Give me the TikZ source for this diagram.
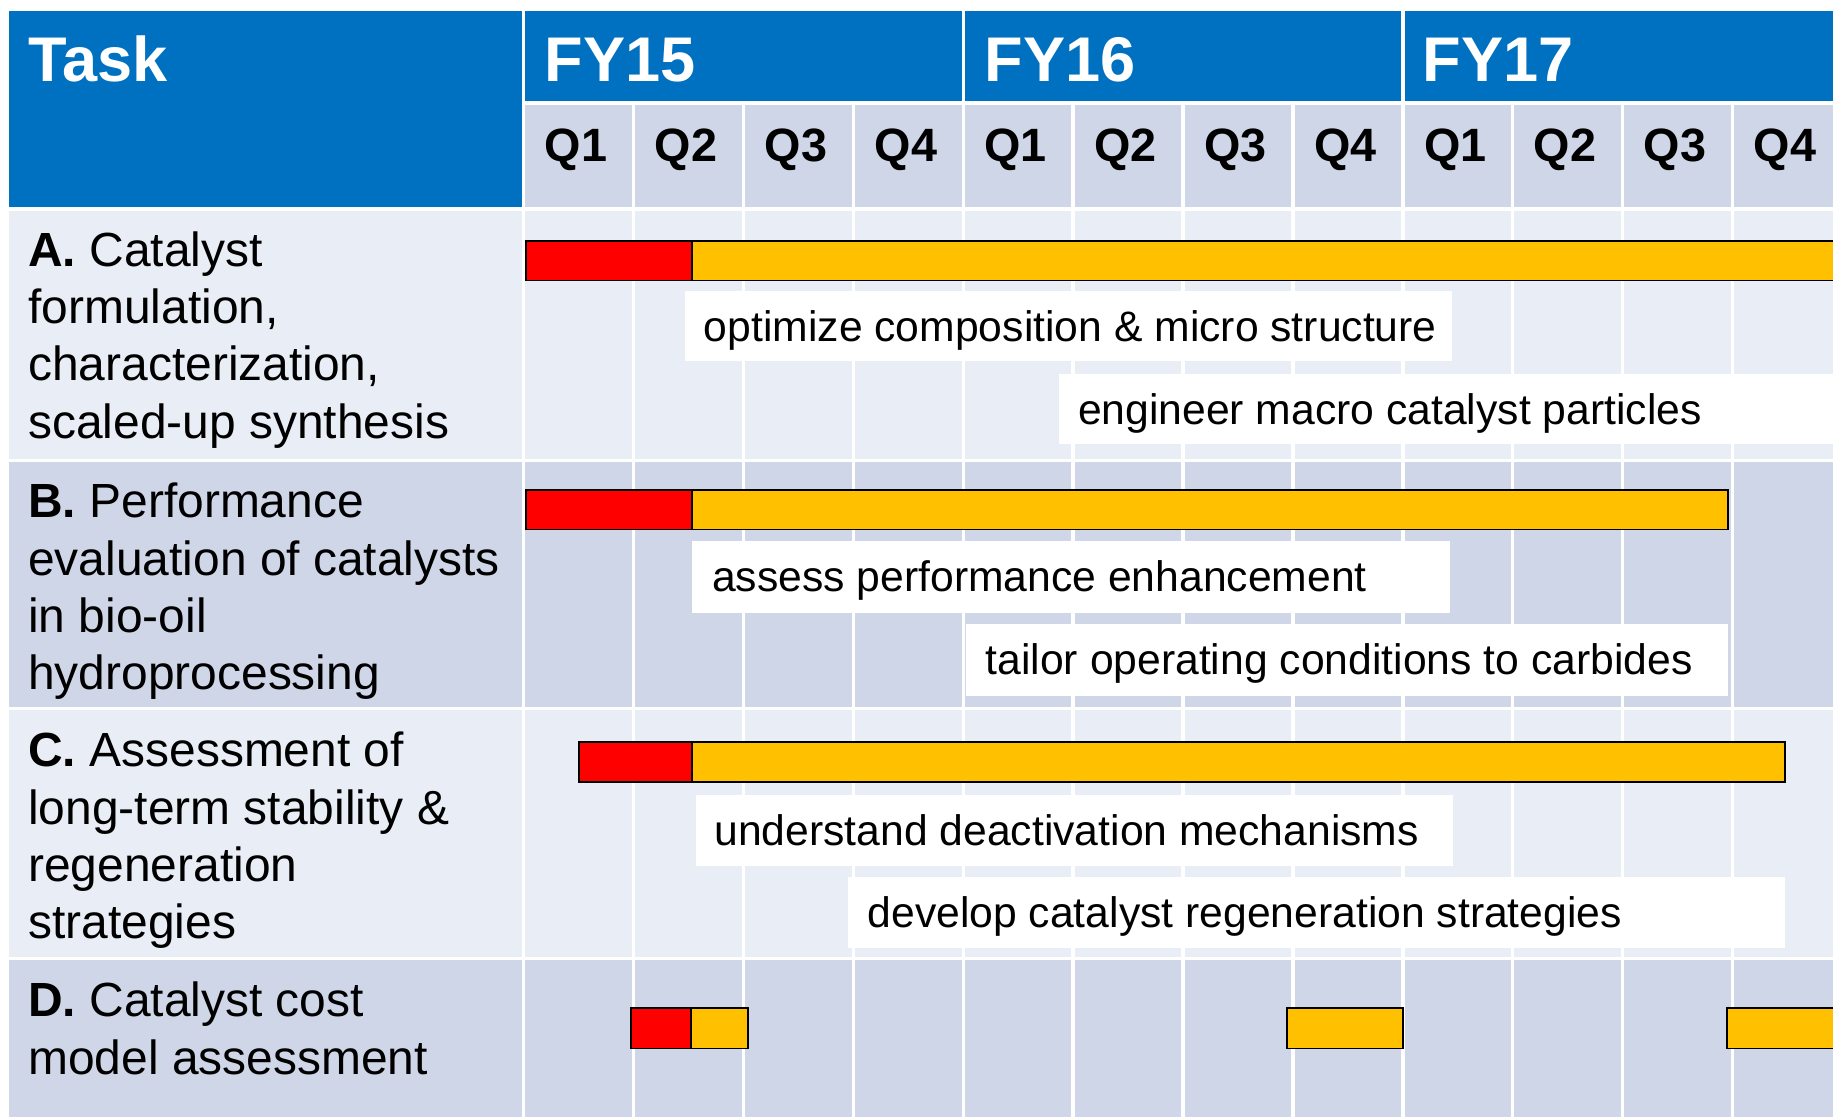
\documentclass[tikz,border=0pt]{standalone}
\usepackage{fontspec}
\setmainfont{Liberation Sans}
\definecolor{hdrblue}{HTML}{0070C0}
\definecolor{bandlight}{HTML}{E9EDF5}
\definecolor{banddark}{HTML}{CFD6E7}
\definecolor{barred}{HTML}{FF0000}
\definecolor{baramber}{HTML}{FFC000}
\begin{document}
\begin{tikzpicture}[x=1pt,y=-1pt,
  tasktext/.style={anchor=north west, inner sep=0pt, align=left, font=\fontsize{41}{49}\selectfont},
  hdrtext/.style={anchor=base west, inner sep=0pt, text=white, font=\bfseries\fontsize{54}{60}\selectfont},
  qtext/.style={anchor=base west, inner sep=0pt, font=\bfseries\fontsize{40}{46}\selectfont},
  lbltext/.style={anchor=base west, inner sep=0pt, font=\fontsize{36.5}{44}\selectfont},
  lblbox/.style={fill=white},
  redbar/.style={fill=barred, draw=black, line width=1.5pt},
  ambbar/.style={fill=baramber, draw=black, line width=1.5pt},
  gridline/.style={draw=white, line width=3pt}]
\useasboundingbox (0,0) rectangle (1568,955);
\clip (0,0) rectangle (1568,955);
\fill[white] (0,0) rectangle (1568,955);
% header
\fill[hdrblue] (8,9) rectangle (446.5,177);
\fill[hdrblue] (449.5,9) rectangle (1580,86);
\fill[banddark] (449.5,89.5) rectangle (1580,177.5);
% row bands
\fill[bandlight] (8,180.5) rectangle (1580,392.5);
\fill[banddark]  (8,395.5) rectangle (1580,604.5);
\fill[bandlight] (8,607.5) rectangle (1580,818.5);
\fill[banddark]  (8,821.5) rectangle (1580,960);
% grid lines
\foreach \i in {1,...,11} {
  \draw[gridline] (448+94*\i,87) -- (448+94*\i,960);
}
\draw[gridline] (448,9) -- (448,960);
\draw[gridline] (824,9) -- (824,87);
\draw[gridline] (1200,9) -- (1200,87);
% header texts
\node[hdrtext] (task) at (24,70) {Task};
\node[hdrtext] (fy15) at (466,70) {FY15};
\node[hdrtext] (fy16) at (842,70) {FY16};
\node[hdrtext] (fy17) at (1217,70) {FY17};
\foreach \i/\q in {0/1,1/2,2/3,3/4,4/1,5/2,6/3,7/4,8/1,9/2,10/3,11/4} {
  \node[qtext] (q\i) at (466+94*\i,138) {Q\q};
}
% task texts
\node[tasktext] (ta) at (24,198) {\textbf{A.} Catalyst\\formulation,\\characterization,\\scaled-up synthesis};
\node[tasktext] (tb) at (24,413) {\textbf{B.} Performance\\evaluation of catalysts\\in bio-oil\\hydroprocessing};
\node[tasktext] (tc) at (24,626) {\textbf{C.} Assessment of\\long-term stability \&\\regeneration\\strategies};
\node[tasktext] (td) at (24,840) {\textbf{D.} Catalyst cost\\model assessment};
% bars
\filldraw[redbar] (450,206) rectangle (592,240);
\filldraw[ambbar] (592,206) rectangle (1575,240);
\filldraw[redbar] (450,419) rectangle (592,453);
\filldraw[ambbar] (592,419) rectangle (1478,453);
\filldraw[redbar] (495,635) rectangle (592,669);
\filldraw[ambbar] (592,635) rectangle (1527,669);
\filldraw[redbar] (540,862) rectangle (591,897);
\filldraw[ambbar] (591,862) rectangle (640,897);
\filldraw[ambbar] (1101,862) rectangle (1200,897);
\filldraw[ambbar] (1477,862) rectangle (1575,897);
% labels
\fill[lblbox] (586,249) rectangle (1242,309);
\node[lbltext] (l1) at (602,292) {optimize composition \& micro structure};
\fill[lblbox] (906,320) rectangle (1580,380);
\node[lbltext] (l2) at (922,363) {engineer macro catalyst particles};
\fill[lblbox] (592,463) rectangle (1240,524);
\node[lbltext] (l3) at (609,506) {assess performance enhancement};
\fill[lblbox] (826,534) rectangle (1478,595);
\node[lbltext] (l4) at (843,577) {tailor operating conditions to carbides};
\fill[lblbox] (595,680) rectangle (1243,741);
\node[lbltext] (l5) at (611,723) {understand deactivation mechanisms};
\fill[lblbox] (725,750) rectangle (1527,811);
\node[lbltext] (l6) at (742,793) {develop catalyst regeneration strategies};
\end{tikzpicture}
\end{document}
